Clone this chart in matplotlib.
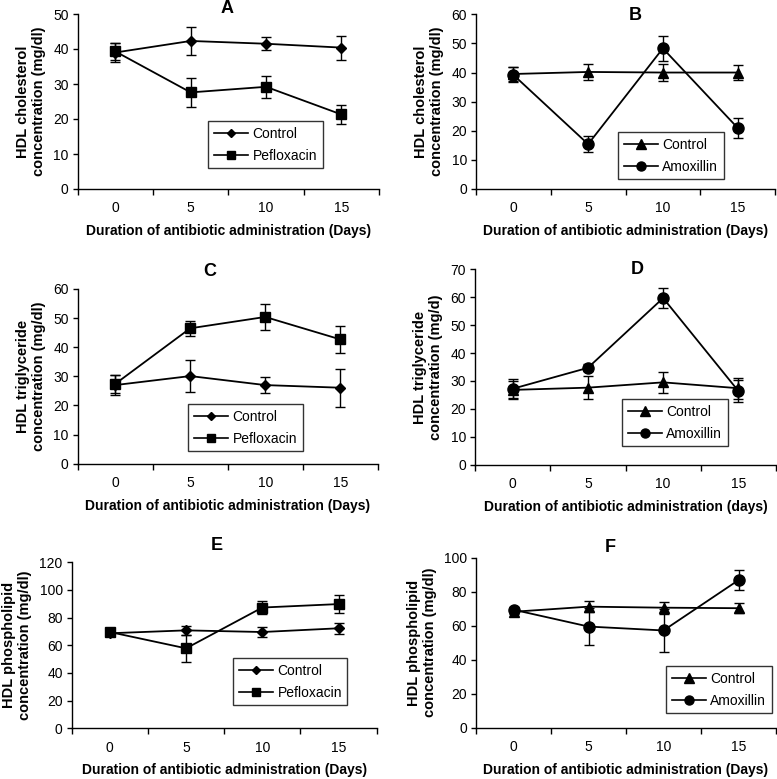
import matplotlib
matplotlib.use('Agg')
import matplotlib.pyplot as plt
from matplotlib.lines import Line2D
from matplotlib.ticker import FixedLocator, MultipleLocator

plt.rcParams['font.family'] = ['Liberation Sans', 'DejaVu Sans']

# ---------------- data ----------------
days = ['0', '5', '10', '15']

# Panel A: HDL cholesterol, Pefloxacin
a_control = [39.0, 42.3, 41.5, 40.4]
a_control_err = [2.6, 4.1, 1.8, 3.4]
a_drug = [39.3, 27.6, 29.2, 21.3]
a_drug_err = [2.5, 4.2, 3.2, 2.8]

# Panel B: HDL cholesterol, Amoxillin
b_control = [39.5, 40.2, 40.0, 40.0]
b_control_err = [2.3, 2.8, 2.8, 2.7]
b_drug = [39.2, 15.4, 48.3, 21.0]
b_drug_err = [2.6, 2.8, 4.2, 3.4]

# Panel C: HDL triglyceride, Pefloxacin
c_control = [27.0, 30.1, 27.0, 26.1]
c_control_err = [3.3, 5.4, 2.8, 6.5]
c_drug = [27.4, 46.5, 50.4, 42.7]
c_drug_err = [3.0, 2.5, 4.5, 4.6]

# Panel D: HDL triglyceride, Amoxillin
d_control = [26.8, 27.6, 29.5, 27.4]
d_control_err = [3.3, 4.0, 3.8, 3.8]
d_drug = [27.2, 34.7, 59.7, 26.4]
d_drug_err = [3.4, 1.2, 3.7, 4.0]

# Panel E: HDL phospholipid, Pefloxacin
e_control = [68.7, 70.8, 69.6, 72.3]
e_control_err = [2.0, 3.3, 3.5, 4.0]
e_drug = [69.6, 57.8, 87.3, 89.8]
e_drug_err = [2.0, 10.0, 4.6, 6.5]

# Panel F: HDL phospholipid, Amoxillin
f_control = [68.2, 71.2, 70.6, 70.3]
f_control_err = [1.5, 3.2, 3.5, 3.0]
f_drug = [69.4, 59.5, 57.2, 86.8]
f_drug_err = [1.5, 10.8, 12.6, 5.9]

panel_letters = ['A', 'B', 'C', 'D', 'E', 'F']
ylabels = ['HDL cholesterol\nconcentration (mg/dl)',
           'HDL cholesterol\nconcentration (mg/dl)',
           'HDL triglyceride\nconcentration (mg/dl)',
           'HDL triglyceride\nconcentration (mg/d)',
           'HDL phospholipid\nconcentration (mg/dl)',
           'HDL phospholipid\nconcentration (mg/dl)']
xlabels = ['Duration of antibiotic administration (Days)'] * 3 + \
          ['Duration of antibiotic administration (days)'] + \
          ['Duration of antibiotic administration (Days)'] * 2
drug_names = ['Pefloxacin', 'Amoxillin', 'Pefloxacin', 'Amoxillin', 'Pefloxacin', 'Amoxillin']
ymax = [50, 60, 60, 70, 120, 100]
ystep = [10, 10, 10, 10, 20, 20]

series = [
    (a_control, a_control_err, a_drug, a_drug_err),
    (b_control, b_control_err, b_drug, b_drug_err),
    (c_control, c_control_err, c_drug, c_drug_err),
    (d_control, d_control_err, d_drug, d_drug_err),
    (e_control, e_control_err, e_drug, e_drug_err),
    (f_control, f_control_err, f_drug, f_drug_err),
]

# ---------------- layout (pixels) ----------------
W, H = 777, 779
# left, right, top, bottom of plotting area
axes_px = [
    (77.7, 379, 14, 189),
    (476, 775, 14.3, 189),
    (77.7, 377.7, 289, 463.7),
    (475, 776, 269.3, 464.7),
    (71.7, 376.7, 562.3, 728.3),
    (476, 776, 557.7, 727.7),
]
title_px = [(227, 8.5), (635, 15.5), (210, 272), (637, 270), (217, 545), (610, 547)]
legend_px = [(208, 121), (618, 132), (188, 404), (622, 399), (233, 658), (666, 666)]

fig = plt.figure(figsize=(W / 100, H / 100), dpi=100)

for i in range(6):
    l, r, t, b = axes_px[i]
    ax = fig.add_axes([l / W, 1 - b / H, (r - l) / W, (b - t) / H])
    ctrl, ctrl_err, drug, drug_err = series[i]
    x = list(range(len(days)))
    ctrl_marker = 'D' if drug_names[i] == 'Pefloxacin' else '^'
    drug_marker = 's' if drug_names[i] == 'Pefloxacin' else 'o'
    ctrl_ms = 5.0 if ctrl_marker == 'D' else 7.5
    drug_ms = 7.3 if drug_marker == 's' else 8.0

    ax.errorbar(x, ctrl, yerr=ctrl_err, color='black', marker=ctrl_marker,
                ms=ctrl_ms, lw=1.3, elinewidth=1.0, capsize=3.5, capthick=1.0,
                zorder=3)
    ax.errorbar(x, drug, yerr=drug_err, color='black', marker=drug_marker,
                ms=drug_ms, lw=1.3, elinewidth=1.0, capsize=3.5, capthick=1.0,
                zorder=3)

    ax.set_xlim(-0.5, len(days) - 0.5)
    ax.set_ylim(0, ymax[i])
    ax.yaxis.set_major_locator(MultipleLocator(ystep[i]))
    ax.xaxis.set_major_locator(FixedLocator([k - 0.5 for k in range(len(days) + 1)]))
    ax.xaxis.set_minor_locator(FixedLocator(x))
    ax.set_xticklabels([''] * (len(days) + 1))
    ax.set_xticklabels(days, minor=True)
    ax.tick_params(axis='x', which='major', direction='out', length=4, width=1)
    ax.tick_params(axis='x', which='minor', length=0, pad=9, labelsize=10)
    ax.tick_params(axis='y', direction='out', length=3.5, width=1, pad=3, labelsize=10)

    for s in ['top', 'right']:
        ax.spines[s].set_visible(False)
    for s in ['left', 'bottom']:
        ax.spines[s].set_linewidth(1.0)

    ax.set_xlabel(xlabels[i], fontsize=10, fontweight='bold', labelpad=6)
    ax.set_ylabel(ylabels[i], fontsize=10.5, fontweight='bold', labelpad=5,
                  linespacing=1.2)

    tx, ty = title_px[i]
    fig.text(tx / W, 1 - ty / H, panel_letters[i], fontsize=13,
             fontweight='bold', ha='center', va='center')

    handles = [
        Line2D([], [], color='black', lw=1.2, marker=ctrl_marker,
               ms=4.5 if ctrl_marker == 'D' else 6.5),
        Line2D([], [], color='black', lw=1.2, marker=drug_marker,
               ms=6.0 if drug_marker == 's' else 6.5),
    ]
    lx, ly = legend_px[i]
    leg = ax.legend(handles, ['Control', drug_names[i]], loc='upper left',
                    bbox_to_anchor=(lx / W, 1 - ly / H),
                    bbox_transform=fig.transFigure, borderaxespad=0,
                    fontsize=10, frameon=True, fancybox=False,
                    handlelength=2.5, handletextpad=0.3, labelspacing=0.6,
                    borderpad=0.4)
    leg.get_frame().set_edgecolor('black')
    leg.get_frame().set_linewidth(1.0)

fig.savefig('out.png', dpi=100)
